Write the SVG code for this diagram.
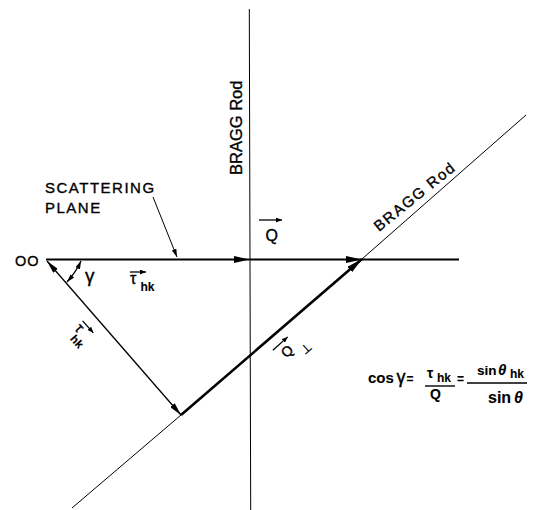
<svg xmlns="http://www.w3.org/2000/svg" width="539" height="510" viewBox="0 0 539 510">
<style>
text{font-family:"Liberation Sans",Arial,sans-serif;fill:#000;stroke:#000;stroke-width:0.35}
.lbl{font-size:15px;letter-spacing:1.5px}
.rod{font-size:16.5px}
.eq{font-weight:bold}
.eq text{stroke-width:0.1}
.thin{stroke:#000;stroke-width:1;fill:none}
.mid{stroke:#000;stroke-width:1.3;fill:none}
.bold{stroke:#000;stroke-width:2;fill:none}
.thick{stroke:#000;stroke-width:2.6;fill:none}
</style>
<defs>
<marker id="ah" viewBox="0 0 16 7" refX="16" refY="3.5" markerWidth="16" markerHeight="7" markerUnits="userSpaceOnUse" orient="auto-start-reverse"><path d="M0,0 L16,3.5 L0,7 Z" fill="#000"/></marker>
<marker id="ahm" viewBox="0 0 13 6" refX="13" refY="3" markerWidth="13" markerHeight="6" markerUnits="userSpaceOnUse" orient="auto-start-reverse"><path d="M0,0 L13,3 L0,6 Z" fill="#000"/></marker>
<marker id="ahs" viewBox="0 0 8 5" refX="8" refY="2.5" markerWidth="8" markerHeight="5" markerUnits="userSpaceOnUse" orient="auto-start-reverse"><path d="M0,0 L8,2.5 L0,5 Z" fill="#000"/></marker>
<marker id="aht" viewBox="0 0 6 5" refX="6" refY="2.5" markerWidth="6" markerHeight="5" markerUnits="userSpaceOnUse" orient="auto"><path d="M0,0 L6,2.5 L0,5 Z" fill="#000"/></marker>
</defs>
<rect width="539" height="510" fill="#fff"/>
<g id="connectors">
<line class="thin" x1="249.3" y1="9" x2="250.7" y2="510"/>
<line class="thin" x1="72" y1="508" x2="181" y2="415"/>
<line class="thin" x1="362" y1="259" x2="526" y2="115"/>
<line class="bold" x1="46" y1="259.5" x2="249.5" y2="259.5" marker-end="url(#ah)"/>
<line class="bold" x1="249.5" y1="259.5" x2="362" y2="259.5" marker-end="url(#ah)"/>
<line class="bold" x1="362" y1="259.5" x2="459" y2="259.5"/>
<line class="thick" x1="181" y1="415" x2="362" y2="259" marker-end="url(#ah)"/>
<line class="mid" x1="47" y1="261" x2="181" y2="415" marker-start="url(#ahm)" marker-end="url(#ahm)"/>
<path class="mid" d="M81,261 Q76,272 67,282" marker-start="url(#ahs)" marker-end="url(#ahs)"/>
<line class="thin" x1="153" y1="197" x2="177" y2="257" marker-end="url(#ahs)"/>
</g>
<g id="origin"><text x="15" y="265.5" style="font-size:14.5px;letter-spacing:1px">OO</text></g>
<g id="scattering-plane">
<text class="lbl" x="45" y="193">SCATTERING</text>
<text class="lbl" x="45" y="213">PLANE</text>
</g>
<g id="bragg-rod-vertical"><text class="rod" transform="translate(242,175) rotate(-90)">BRAGG Rod</text></g>
<g id="bragg-rod-diagonal"><text style="font-size:15px;letter-spacing:1.6px" transform="translate(379,232) rotate(-39)">BRAGG  Rod</text></g>
<g id="gamma"><text x="85" y="282" style="font-size:19px">γ</text></g>
<g id="tau-horizontal">
<line class="mid" x1="130" y1="272" x2="146" y2="272" marker-end="url(#aht)"/>
<text x="130" y="284" style="font-size:16px">τ</text>
<text class="eq" x="140.5" y="291" style="font-size:12px;stroke-width:0.1">hk</text>
</g>
<g id="q-vector">
<line class="mid" x1="259" y1="220" x2="282" y2="220" marker-end="url(#aht)"/>
<text x="265.5" y="241" style="font-size:16px">Q</text>
</g>
<g id="tau-diagonal" transform="translate(80,330) rotate(48)">
<line class="mid" x1="-5" y1="-8" x2="11" y2="-8" marker-end="url(#aht)"/>
<text x="-5" y="4" style="font-size:15px">τ</text>
<text class="eq" x="0" y="14" style="font-size:11.5px;stroke-width:0.1">hk</text>
</g>
<g id="q-perp" transform="translate(287,351) rotate(-42)">
<line class="mid" x1="-10" y1="-10" x2="10" y2="-10" marker-end="url(#aht)"/>
<text x="-5.5" y="5" style="font-size:14px">Q</text>
<text x="11" y="15" style="font-size:12px">⊥</text>
</g>
<g id="equation" class="eq">
<text x="368" y="383" style="font-size:15px">cos</text>
<text x="396.5" y="383" style="font-size:18px;font-weight:normal;stroke-width:0.45">γ</text>
<text x="406.5" y="383" style="font-size:12px">=</text>
<text x="427" y="378" style="font-size:14px">τ</text>
<text x="437" y="382" style="font-size:12px">hk</text>
<line x1="425" y1="386" x2="455" y2="386" stroke="#000" stroke-width="1.4"/>
<text x="430" y="398.5" style="font-size:14px">Q</text>
<text x="457" y="383" style="font-size:12px">=</text>
<text x="477" y="375" style="font-size:13.5px">sin</text>
<text x="498" y="375" style="font-size:15px;font-style:italic">θ</text>
<text x="510" y="378" style="font-size:12px">hk</text>
<line x1="467" y1="383" x2="527" y2="383" stroke="#000" stroke-width="1.4"/>
<text x="488" y="403" style="font-size:16px">sin</text>
<text x="514" y="403" style="font-size:16px;font-style:italic">θ</text>
</g>
</svg>
